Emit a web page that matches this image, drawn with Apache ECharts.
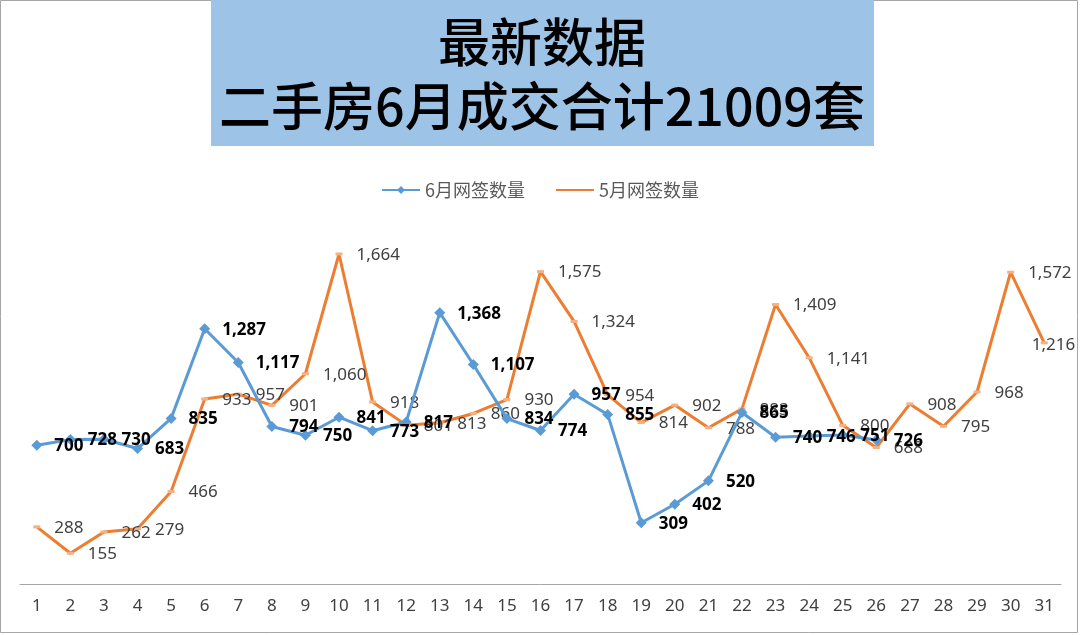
<!DOCTYPE html>
<html>
<head>
<meta charset="utf-8">
<script src="https://cdn.jsdelivr.net/npm/echarts@6/dist/echarts.min.js"></script>
<style>
html,body{margin:0;padding:0;background:#fff;}
#c{width:1080px;height:635px;}
</style>
</head>
<body>
<div id="c"></div>
<script>
const days = ['1','2','3','4','5','6','7','8','9','10','11','12','13','14','15','16','17','18','19','20','21','22','23','24','25','26','27','28','29','30','31'];
const june = [700,728,730,683,835,1287,1117,794,750,841,773,817,1368,1107,834,774,957,855,309,402,520,865,740,746,751,726];
const may = [288,155,262,279,466,933,957,901,1060,1664,918,801,813,860,930,1575,1324,954,814,902,788,883,1409,1141,800,688,908,795,968,1572,1216];
const titleLines = ['最新数据','二手房6月成交合计21009套'];
const seriesNames = ['6月网签数量','5月网签数量'];

const fmt = v => Number(v).toLocaleString('en-US');
const chart = echarts.init(document.getElementById('c'));

const mayData = may.map((v,i) => i === may.length-1
  ? {value:v, label:{offset:[-30,2]}}
  : v);

const titleStyle = {fontFamily:'Noto Sans CJK SC', fontSize:52, fontWeight:500, fill:'#000', textAlign:'center', textVerticalAlign:'middle'};

chart.setOption({
  backgroundColor:'#fff',
  animation:false,
  graphic:[
    {type:'rect', shape:{x:0.5,y:0.5,width:1077,height:632}, style:{fill:'none',stroke:'#a6a6a6',lineWidth:1}, z:-10},
    {type:'rect', shape:{x:211,y:0,width:663,height:146}, style:{fill:'#9DC3E6'}, z:-5},
    {type:'text', x:542, y:42, style:Object.assign({text:titleLines[0]}, titleStyle), z:10},
    {type:'text', x:542, y:106, style:Object.assign({text:titleLines[1]}, titleStyle), z:10}
  ],
  legend:{
    top:176, left:'center', itemGap:30, itemWidth:38, itemHeight:10,
    textStyle:{fontFamily:'Noto Sans CJK SC', fontSize:18, color:'#595959'},
    data:[seriesNames[0], {name:seriesNames[1], itemStyle:{opacity:0}}]
  },
  grid:{left:20, right:19, top:227, bottom:51},
  xAxis:{
    type:'category', data:days, boundaryGap:true,
    axisLine:{lineStyle:{color:'#a6a6a6', width:1}},
    axisTick:{show:false},
    axisLabel:{color:'#404040', fontSize:17, fontFamily:'Noto Sans', margin:14}
  },
  yAxis:{type:'value', min:0, max:1800, show:false, splitLine:{show:false}},
  series:[
    {
      name:seriesNames[1], type:'line', data:mayData,
      symbol:'rect', symbolSize:[7,3],
      lineStyle:{color:'#ED7D31', width:3},
      itemStyle:{color:'#F4B183'},
      label:{show:true, position:'right', distance:14, offset:[0,1], formatter:p=>fmt(p.value),
        color:'#404040', fontSize:17, fontFamily:'Noto Sans'},
      z:2
    },
    {
      name:seriesNames[0], type:'line', data:june,
      symbol:'diamond', symbolSize:11,
      lineStyle:{color:'#5B9BD5', width:3},
      itemStyle:{color:'#5B9BD5'},
      label:{show:true, position:'right', distance:12, offset:[0,1], formatter:p=>fmt(p.value),
        color:'#000', fontWeight:'bold', fontSize:17, fontFamily:'Noto Sans'},
      z:3
    }
  ]
});
</script>
</body>
</html>
